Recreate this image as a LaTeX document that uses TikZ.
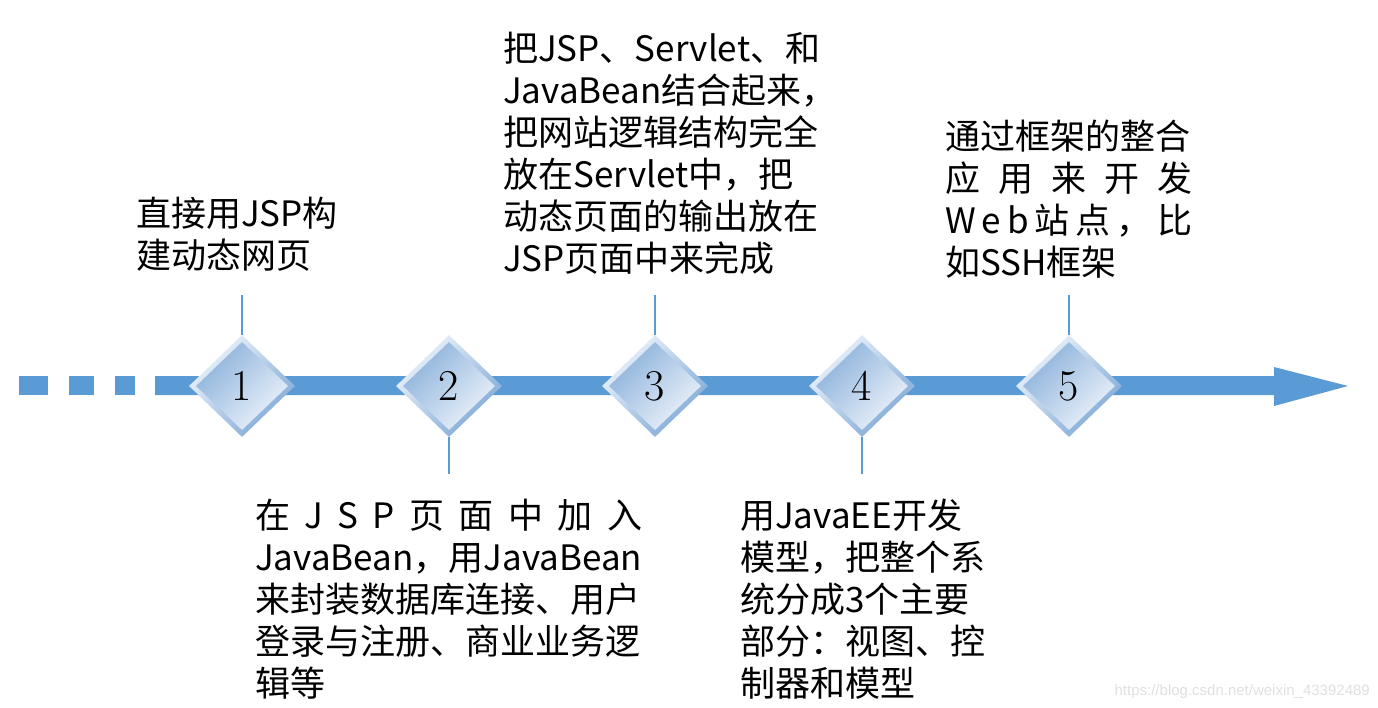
\documentclass[tikz,border=0pt]{standalone}
\usepackage{fontspec}
\newfontfamily\cjk{Noto Sans CJK SC}
\newfontfamily\wmfont{Liberation Sans}
\usetikzlibrary{shapes.geometric}
\definecolor{barblue}{HTML}{5B9BD5}
\definecolor{frameLight}{HTML}{EEF4FB}
\definecolor{frameDark}{HTML}{7EA8D6}
\definecolor{faceDark}{HTML}{8CB2DB}
\definecolor{faceLight}{HTML}{ECF2FA}
\begin{document}
\begin{tikzpicture}[x=1pt,y=-1pt,
  frame/.style={diamond, minimum width=106pt, minimum height=102pt, inner sep=0pt,
    top color=frameLight, bottom color=frameDark, shading angle=45},
  face/.style={diamond, minimum width=92pt, minimum height=88pt, inner sep=0pt,
    top color=faceDark, bottom color=faceLight, shading angle=45,
    font=\fontsize{44}{44}\selectfont},
  conn/.style={draw=barblue, line width=2pt},
  txt/.style={anchor=base west, align=left, inner sep=0pt,
    font=\cjk\fontsize{35}{42}\selectfont}
]
\useasboundingbox (0,0) rectangle (1378,707);
% dashes and arrow bar
\fill[barblue] (19,376) rectangle (48,395);
\fill[barblue] (69,376) rectangle (94,395);
\fill[barblue] (115,376) rectangle (135,395);
\fill[barblue] (155,376) -- (1274,376) -- (1274,367) -- (1348,386) -- (1274,406) -- (1274,395) -- (155,395) -- cycle;
% diamonds
\node[frame] (f1) at (242,386) {};
\node[face] (n1) at (f1) {1};
\node[frame] (f2) at (449,386) {};
\node[face] (n2) at (f2) {2};
\node[frame] (f3) at (655,386) {};
\node[face] (n3) at (f3) {3};
\node[frame] (f4) at (862,386) {};
\node[face] (n4) at (f4) {4};
\node[frame] (f5) at (1069,386) {};
\node[face] (n5) at (f5) {5};
% connector ends
\coordinate (c1) at (242,295);
\coordinate (c2) at (449,474);
\coordinate (c3) at (655,295);
\coordinate (c4) at (862,474);
\coordinate (c5) at (1069,295);
\draw[conn] (f1) -- (c1);
\draw[conn] (f2) -- (c2);
\draw[conn] (f3) -- (c3);
\draw[conn] (f4) -- (c4);
\draw[conn] (f5) -- (c5);
% texts (anchored at the baseline of the last line)
\node[txt] (t1) at (136,268) {直接用JSP构\\建动态网页};
\node[txt] (t3) at (503,271) {把JSP、Servlet、和\\JavaBean结合起来，\\把网站逻辑结构完全\\放在Servlet中，把\\动态页面的输出放在\\JSP页面中来完成};
\node[txt] (t5) at (945,275) {通过框架的整合\\\hbox to 247pt{应\hfil 用\hfil 来\hfil 开\hfil 发}\\\hbox to 247pt{W\hfil e\hfil b\hfil 站\hfil 点\hfil ，\hfil 比}\\如SSH框架};
\node[txt] (t2) at (255,696) {\hbox to 387pt{在\hfil J\hfil S\hfil P\hfil 页\hfil 面\hfil 中\hfil 加\hfil 入}\\JavaBean，用JavaBean\\来封装数据库连接、用户\\登录与注册、商业业务逻\\辑等};
\node[txt] (t4) at (740,696) {用JavaEE开发\\模型，把整个系\\统分成3个主要\\部分：视图、控\\制器和模型};
% watermark
\node[anchor=base east, inner sep=0pt, text=black!12, font=\wmfont\fontsize{15}{15}\selectfont] (wm) at (1370,695) {https://blog.csdn.net/weixin\_43392489};
\end{tikzpicture}
\end{document}
